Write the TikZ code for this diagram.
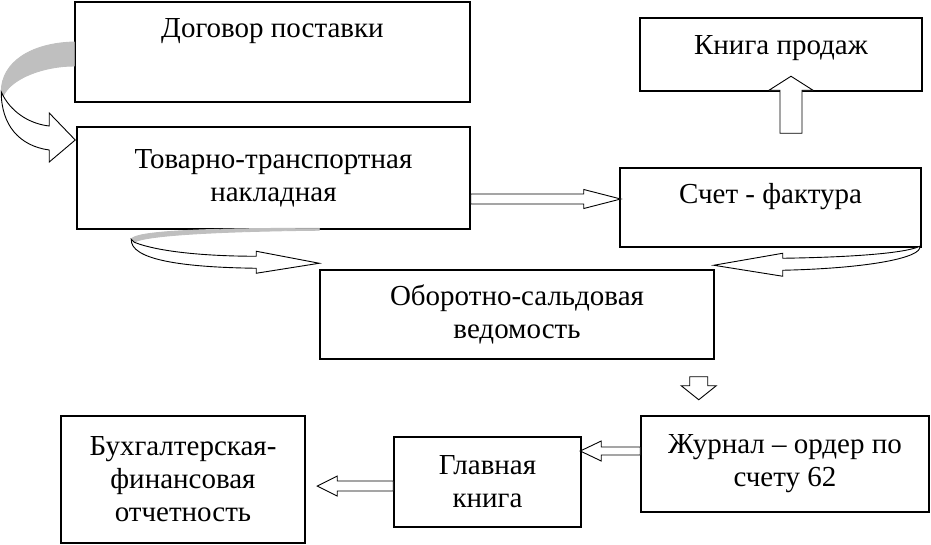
\documentclass[tikz,border=0pt]{standalone}
\usepackage{fontspec}
\setmainfont{Liberation Serif}
\usepackage{tikz}
\usetikzlibrary{calc}

\tikzset{
  box/.style={draw, line width=1.5pt, fill=white, inner sep=0pt, align=center,
    font=\fontsize{29}{33}\selectfont},
  ribbon/.style={draw, line width=0.9pt, fill=white, line join=miter},
  pics/hollowarrow/.style n args={4}{code={
    \draw[ribbon] (0,-#2) -- (#1-#4,-#2) -- (#1-#4,-#3) -- (#1,0)
      -- (#1-#4,#3) -- (#1-#4,#2) -- (0,#2) -- cycle;
  }}
}

\begin{document}
\begin{tikzpicture}[x=1pt, y=-1pt]
  \useasboundingbox (0,0) rectangle (931,544);

  % boxes
  \node[box, minimum width=395pt, minimum height=100pt, text height=35pt, text depth=65pt] (dog) at (272.5,52) {Договор поставки};
  \node[box, minimum width=393pt, minimum height=102pt] (ttn) at (273.5,178) {Товарно-транспортная\\накладная};
  \node[box, minimum width=282pt, minimum height=73pt, text height=36pt, text depth=37pt] (kp) at (781,54.5) {Книга продаж};
  \node[box, minimum width=301pt, minimum height=79pt, text height=35pt, text depth=44pt] (sf) at (770.5,207.5) {Счет - фактура};
  \node[box, minimum width=394pt, minimum height=89pt] (osv) at (517,314.5) {Оборотно-сальдовая\\ведомость};
  \node[box, minimum width=288pt, minimum height=96pt] (jo) at (785,464) {Журнал -- ордер по\\счету 62};
  \node[box, minimum width=187pt, minimum height=90pt] (gk) at (487.5,482) {Главная\\книга};
  \node[box, minimum width=244pt, minimum height=127pt] (bfo) at (183,479.5) {Бухгалтерская-\\финансовая\\отчетность};

  % curved arrows
  \begin{scope}[shift={(ttn.west)}]
    \fill[black!25, draw, line width=0.9pt] (-2,-136) .. controls (-45,-135) and (-75,-116) .. (-75,-86)
      -- (-73,-82) .. controls (-65,-100) and (-32,-112) .. (-2,-112) -- cycle;
    \draw[ribbon] (-73,-82) .. controls (-63,-64) and (-45,-54) .. (-27,-52) -- (-27,-65) -- (-1,-38)
      -- (-27,-16) -- (-27,-28) .. controls (-57,-32) and (-75,-53) .. (-75,-86) -- cycle;
  \end{scope}
  \begin{scope}[shift={(osv.north west)}]
    \fill[black!25, draw, line width=0.9pt] (-188,-30) .. controls (-184,-38) and (-120,-41) .. (0,-41)
      -- (0,-39) .. controls (-100,-38) and (-174,-34) .. (-185,-27) -- cycle;
    \draw[ribbon] (-185,-27) .. controls (-160,-17) and (-110,-13) .. (-63,-13) -- (-63,-18) -- (0,-6)
      -- (-63,4) -- (-63,-1) .. controls (-140,-2) and (-189,-10) .. (-188,-30) -- cycle;
  \end{scope}
  \begin{scope}[shift={(osv.north east)}]
    \draw[ribbon] (-1,-4) -- (68,-16) -- (68,-11) .. controls (136,-12) and (191,-16) .. (205,-23)
      .. controls (208,-12) and (156,-1) .. (68,1) -- (68,7) -- cycle;
  \end{scope}

  % straight arrows
  \pic at ([yshift=-21pt]ttn.east) {hollowarrow={150}{5}{9.5}{37}};
  \pic[rotate=90] at ([xshift=20.5pt, yshift=34pt]sf.north) {hollowarrow={57}{11}{22}{14}};
  \pic[rotate=-90] at ([xshift=-16pt, yshift=-17pt]osv.south east) {hollowarrow={23}{9}{17.5}{14}};
  \pic[rotate=180] at ([yshift=13pt]jo.west) {hollowarrow={60}{4}{10}{21}};
  \pic[rotate=180] at ([yshift=-4pt]gk.west) {hollowarrow={76}{5}{10}{20}};
\end{tikzpicture}
\end{document}
